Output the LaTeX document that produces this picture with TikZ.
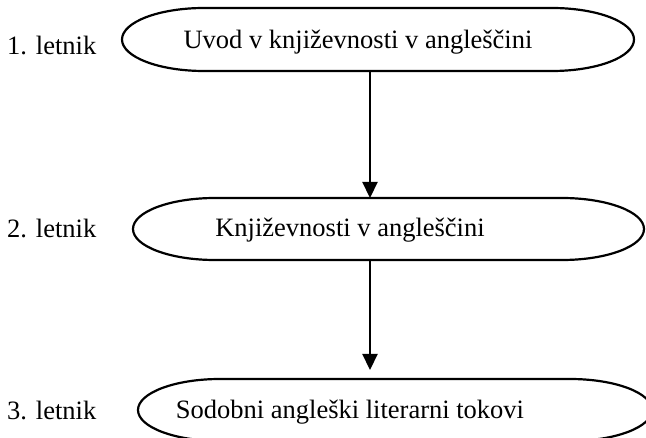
\documentclass[tikz,border=0pt]{standalone}
\usepackage{fontspec}
\setmainfont{Liberation Serif}
\usetikzlibrary{arrows.meta}
\begin{document}
\begin{tikzpicture}[x=1pt,y=1pt,
  term/.style={draw=black,line width=2.2pt},
  conn/.style={draw=black,line width=2.2pt,-{Triangle[length=16pt,width=15pt]}},
  txt/.style={font=\fontsize{26.5}{30}\selectfont,inner sep=0pt},
  yr/.style={txt,anchor=west}]
\useasboundingbox (0,0) rectangle (646,437);
% box 1
\draw[term] (204,429) -- (552,429) arc[start angle=90,end angle=-90,x radius=82pt,y radius=31.5pt]
  -- (204,366) arc[start angle=270,end angle=90,x radius=82pt,y radius=31.5pt] -- cycle;
% box 2
\draw[term] (215,239) -- (562,239) arc[start angle=90,end angle=-90,x radius=82pt,y radius=31pt]
  -- (215,177) arc[start angle=270,end angle=90,x radius=82pt,y radius=31pt] -- cycle;
% box 3
\draw[term] (220,58) -- (570,58) arc[start angle=90,end angle=-90,x radius=82pt,y radius=31pt]
  -- (220,-4) arc[start angle=270,end angle=90,x radius=82pt,y radius=31pt] -- cycle;
\node[txt] (t1) at (358,395) {Uvod v književnosti v angleščini};
\node[txt] (t2) at (350,207) {Književnosti v angleščini};
\node[txt] (t3) at (350,25) {Sodobni angleški literarni tokovi};
\node[yr] (l1) at (7,392) {1. letnik};
\node[yr] (l2) at (7,209) {2. letnik};
\node[yr] (l3) at (7,27) {3. letnik};
\coordinate (b1) at (370,366);
\coordinate (a2) at (370,239);
\coordinate (b2) at (370,177);
\coordinate (a3) at (370,67);
\draw[conn] (b1) -- (a2);
\draw[conn] (b2) -- (a3);
\end{tikzpicture}
\end{document}
